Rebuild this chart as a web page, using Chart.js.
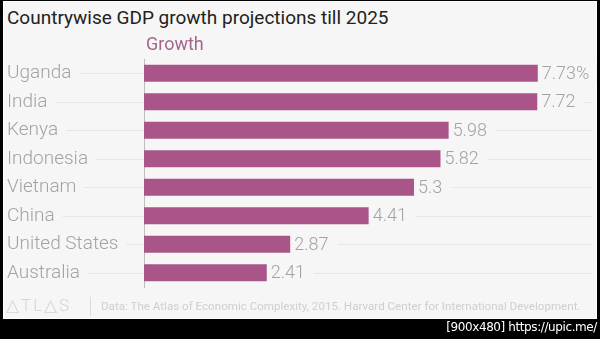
<!DOCTYPE html>
<html>
<head>
<meta charset="utf-8">
<script src="https://cdn.jsdelivr.net/npm/chart.js@4.4.1/dist/chart.umd.min.js"></script>
<style>
  html, body { margin: 0; padding: 0; }
  body { width: 600px; height: 339px; background: #000; position: relative; overflow: hidden; font-family: Roboto, sans-serif; }
  #panel { position: absolute; left: 3px; top: 1px; width: 592px; height: 316px; background: #f6f6f6; border: 1px solid #fff; }
  #title { position: absolute; left: 7px; top: 6px; font-size: 19px; color: #222; white-space: nowrap; }
  #chartBox { position: absolute; left: 3px; top: 30px; width: 594px; height: 274px; }
  #logo { position: absolute; left: 6px; top: 295px; font-size: 17px; font-weight: 300; color: #d4d4d4; letter-spacing: 2px; white-space: nowrap; }
  #sep { position: absolute; left: 90px; top: 297px; width: 1px; height: 19px; background: #dcdcdc; }
  #source { position: absolute; left: 101px; top: 299px; font-size: 11.6px; color: #cfcfcf; white-space: nowrap; }
  #stamp { position: absolute; right: 3px; top: 320px; font-size: 12px; color: #fff; white-space: nowrap; font-family: "DejaVu Sans", sans-serif; letter-spacing: -0.4px; }
</style>
</head>
<body>
<div id="panel"></div>
<div id="title">Countrywise GDP growth projections till 2025</div>
<div id="chartBox"><canvas id="barChart"></canvas></div>
<div id="logo">△TL△S</div>
<div id="sep"></div>
<div id="source">Data: The Atlas of Economic Complexity, 2015. Harvard Center for International Development.</div>
<div id="stamp">[900x480] https://upic.me/</div>
<script>
const countries = ['Uganda', 'India', 'Kenya', 'Indonesia', 'Vietnam', 'China', 'United States', 'Australia'];
const growth = [7.73, 7.72, 5.98, 5.82, 5.3, 4.41, 2.87, 2.41];
const seriesName = 'Growth';
const xMax = 8.5;

const bgColor = '#f6f6f6';
const barColor = '#a9558a';
const labelGray = '#a3a3a3';
const labelFont = { family: 'Roboto', size: 19, weight: '300' };

const ctxBar = document.getElementById('barChart').getContext('2d');

// row guide lines behind labels and bars, one per category
const rowLines = {
  id: 'rowLines',
  beforeDraw(chart) {
    const { ctx } = chart;
    const y = chart.scales.y;
    ctx.save();
    ctx.strokeStyle = '#e6e6e6';
    ctx.lineWidth = 1;
    y.ticks.forEach((t, i) => {
      const py = Math.round(y.getPixelForTick(i)) + 0.5;
      ctx.beginPath();
      ctx.moveTo(y.left, py);
      ctx.lineTo(chart.width - 5, py);
      ctx.stroke();
    });
    ctx.restore();
  }
};

// series name above the bars, value at the end of each bar
const barText = {
  id: 'barText',
  afterDatasetsDraw(chart) {
    const { ctx, chartArea } = chart;
    const meta = chart.getDatasetMeta(0);
    ctx.save();
    ctx.font = `300 18px ${labelFont.family}`;
    ctx.textBaseline = 'middle';
    meta.data.forEach((bar, i) => {
      const txt = growth[i] + (i === 0 ? '%' : '');
      const w = ctx.measureText(txt).width;
      ctx.fillStyle = bgColor;
      ctx.fillRect(bar.x + 1, bar.y - 10, w + 12, 20);
      ctx.fillStyle = labelGray;
      ctx.fillText(txt, bar.x + 4, bar.y + 1);
    });
    ctx.fillStyle = '#a3668f';
    ctx.font = '400 18px Roboto';
    ctx.textBaseline = 'alphabetic';
    ctx.fillText(seriesName, chartArea.left + 2, chartArea.top - 9);
    ctx.restore();
  }
};

const barChart = new Chart(ctxBar, {
  type: 'bar',
  data: {
    labels: countries,
    datasets: [{
      label: seriesName,
      data: growth,
      backgroundColor: barColor,
      borderWidth: 0,
      barPercentage: 0.6,
      categoryPercentage: 1
    }]
  },
  options: {
    indexAxis: 'y',
    responsive: true,
    maintainAspectRatio: false,
    animation: false,
    layout: { padding: { left: 4, right: 20, top: 29, bottom: 17 } },
    plugins: {
      legend: { display: false },
      tooltip: { enabled: false }
    },
    scales: {
      x: { display: false, min: 0, max: xMax },
      y: {
        afterFit(scale) { scale.width = 137; },
        grid: { display: false },
        border: { display: true, color: '#bdbdbd', width: 1 },
        ticks: {
          crossAlign: 'far',
          color: labelGray,
          font: labelFont,
          showLabelBackdrop: true,
          backdropColor: bgColor,
          backdropPadding: { top: 2, bottom: 2, left: 2, right: 8 }
        }
      }
    }
  },
  plugins: [rowLines, barText]
});
</script>
</body>
</html>
